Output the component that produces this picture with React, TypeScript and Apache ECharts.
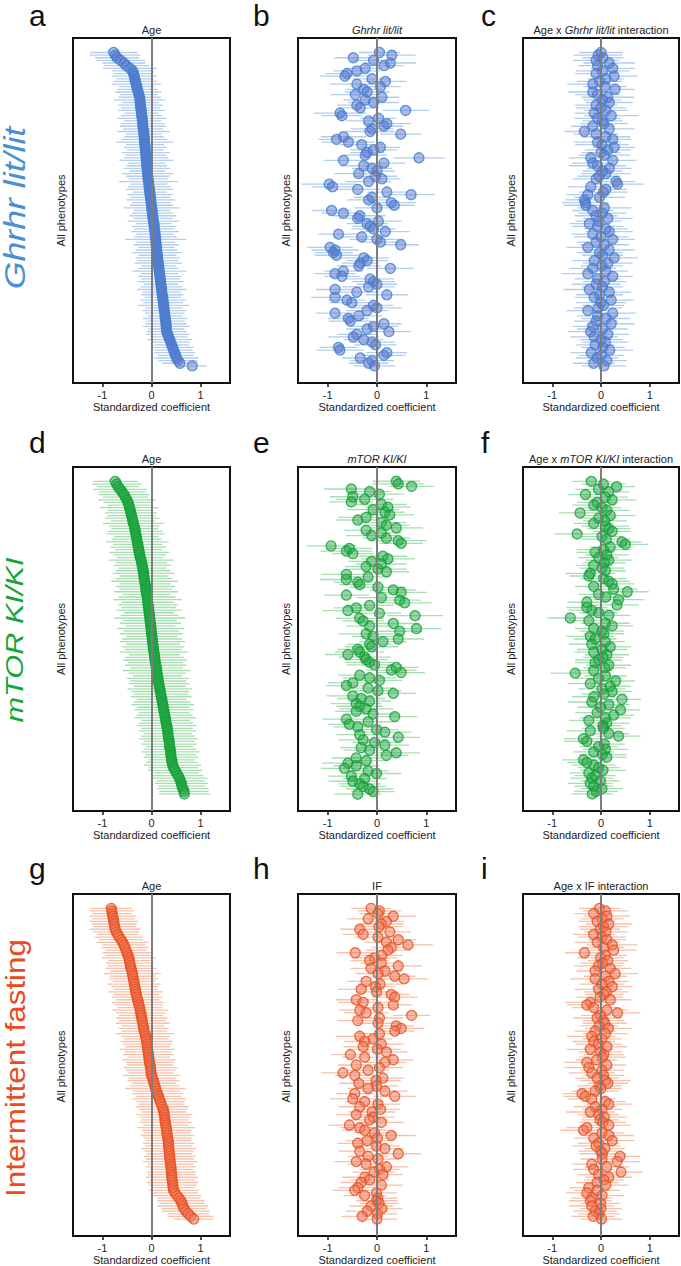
import React, { useEffect, useRef } from "react";
import * as echarts from "echarts";

// ---------- Row 1: Ghrhr lit/lit ----------
const ageGhrhr = [
  -0.77,-0.74,-0.70,-0.63,-0.56,-0.51,-0.44,-0.38,-0.37,-0.35,
  -0.34,-0.33,-0.31,-0.30,-0.29,-0.27,-0.26,-0.24,-0.235,-0.23,
  -0.225,-0.22,-0.21,-0.205,-0.20,-0.19,-0.185,-0.18,-0.175,-0.17,
  -0.16,-0.155,-0.15,-0.145,-0.14,-0.135,-0.13,-0.125,-0.12,-0.115,
  -0.11,-0.105,-0.10,-0.095,-0.09,-0.085,-0.08,-0.075,-0.07,-0.06,
  -0.055,-0.05,-0.04,-0.035,-0.03,-0.02,-0.015,-0.01,0.00,0.005,
  0.01,0.02,0.025,0.03,0.04,0.05,0.055,0.06,0.07,0.075,
  0.08,0.085,0.09,0.095,0.10,0.105,0.11,0.12,0.125,0.13,
  0.14,0.145,0.15,0.16,0.165,0.17,0.18,0.185,0.19,0.20,
  0.205,0.21,0.22,0.23,0.235,0.24,0.25,0.255,0.26,0.27,
  0.275,0.28,0.29,0.295,0.30,0.305,0.31,0.33,0.35,0.37,
  0.39,0.41,0.43,0.45,0.47,0.49,0.51,0.54,0.58,0.83,
];
const errAgeGhrhr = [
  .48,.52,.45,.50,.44,.47,.55,.42,.40,.46,.38,.44,.50,.36,.41,.47,.39,.43,.52,.37,
  .45,.40,.48,.35,.42,.50,.38,.44,.47,.41,.53,.36,.40,.46,.58,.39,.43,.37,.49,.42,
  .45,.55,.38,.41,.47,.36,.52,.44,.40,.60,.38,.43,.48,.35,.46,.41,.50,.39,.44,.57,
  .37,.42,.48,.40,.53,.36,.45,.41,.49,.38,.44,.62,.40,.46,.37,.43,.51,.39,.45,.42,
  .48,.36,.41,.55,.38,.44,.40,.47,.35,.42,.50,.39,.43,.37,.46,.41,.52,.38,.44,.40,
  .36,.45,.39,.42,.48,.37,.41,.44,.38,.46,.40,.35,.43,.39,.42,.37,.45,.40,.36,.30,
];
const ghrhrMain = [
  0.05,0.30,-0.48,-0.07,0.27,0.14,-0.24,-0.41,-0.61,-0.65,-0.10,0.17,
  -0.41,0.07,-0.27,-0.20,-0.44,0.10,-0.24,-0.07,-0.41,-0.34,0.58,-0.75,-0.71,0.03,-0.17,0.20,0.14,-0.10,
  -0.14,0.48,-0.68,-0.82,-0.58,-0.31,0.07,-0.07,-0.20,-0.24,0.85,-0.68,0.14,-0.27,-0.10,0.00,-0.37,-0.03,0.10,-0.17,
  -0.97,-0.90,-0.39,0.20,0.69,-0.10,-0.17,0.29,0.35,0.00,-0.92,-0.68,-0.35,-0.39,0.03,-0.20,-0.14,-0.07,0.17,-0.78,
  -0.31,0.00,0.07,0.48,-0.95,-0.85,-0.88,-0.82,-0.27,-0.20,-0.34,-0.37,0.27,-0.68,-0.85,-0.71,-0.14,-0.07,0.00,-0.17,
  -0.85,-0.41,0.20,-0.85,-0.61,-0.51,-0.07,0.00,-0.20,-0.85,-0.37,-0.58,-0.54,0.14,-0.07,-0.20,0.24,-0.41,-0.48,-0.27,
  -0.10,-0.03,-0.78,-0.75,0.20,0.14,-0.34,-0.10,-0.17,-0.05,
];
const errGhrhrMain = [
  .42,.48,.38,.45,.52,.40,.36,.47,.44,.50,.39,.43,.55,.41,.37,.46,.49,.35,.44,.51,
  .40,.38,.47,.53,.42,.36,.45,.48,.39,.43,.50,.41,.46,.37,.54,.44,.40,.48,.35,.45,
  .52,.39,.43,.47,.41,.36,.49,.44,.38,.46,.56,.42,.45,.40,.48,.37,.43,.50,.41,.46,
  .39,.44,.52,.38,.47,.42,.36,.45,.49,.40,.43,.55,.41,.37,.46,.48,.39,.44,.51,.42,
  .38,.45,.47,.40,.43,.36,.49,.44,.41,.53,.39,.46,.42,.48,.37,.45,.40,.50,.43,.38,
  .47,.41,.44,.36,.49,.42,.45,.39,.52,.40,.46,.43,.38,.48,.41,.44,.37,.45,.40,.42,
];
const ghrhrInter = [
  0,-0.06,0.04,-0.1,0.17,-0.07,0.24,0.03,-0.1,0.27,0.1,-0.03,
  -0.17,0.08,0.29,-0.17,-0.07,0.14,0.03,0.17,-0.1,0,0.1,-0.14,0.21,-0.07,0.03,0.06,-0.17,0.17,
  -0.34,-0.1,0.1,0.24,-0.07,0.02,0.27,0.14,0,0.07,-0.21,0.24,-0.17,-0.07,0.17,0.03,0.1,-0.04,
  -0.1,0.31,0.34,-0.21,0.1,0.05,-0.27,-0.03,-0.34,-0.32,-0.31,0.07,-0.17,0.03,-0.1,0.14,-0.05,
  -0.24,-0.07,0.1,0.17,-0.17,0,0.24,-0.1,0.07,-0.27,0.17,-0.03,0.03,0.27,-0.14,0.14,0.02,
  -0.17,0.1,-0.27,0.24,-0.07,0.07,-0.1,0.03,-0.24,0.17,-0.03,-0.14,0.21,0,0.05,-0.06,
  -0.27,0.24,-0.07,0.1,-0.1,0.21,-0.17,0.03,-0.21,0.14,-0.14,0,0.09,-0.12,0.04,0.18,-0.2,0.01,-0.08,
  0.12,-0.15,0.06,
];
const errGhrhrInter = [
  .45,.50,.42,.48,.53,.40,.46,.55,.43,.49,.38,.47,.52,.44,.41,.50,.46,.54,.39,.48,
  .43,.51,.45,.40,.56,.47,.42,.49,.44,.52,.41,.46,.50,.38,.48,.55,.43,.47,.40,.53,
  .45,.49,.42,.58,.46,.41,.51,.44,.48,.39,.54,.47,.43,.50,.45,.52,.40,.48,.46,.55,
  .42,.49,.44,.51,.47,.41,.53,.45,.48,.43,.56,.46,.40,.50,.44,.52,.47,.42,.49,.45,
  .51,.43,.48,.46,.54,.41,.47,.44,.50,.42,.53,.45,.48,.40,.46,.51,.43,.49,.44,.47,
  .42,.50,.45,.48,.41,.52,.46,.43,.49,.44,.47,.40,.45,.48,.42,.46,.44,.41,.43,.45,
];

// ---------- Row 2: mTOR KI/KI ----------
const ageMtor = [
  -0.74,-0.71,-0.68,-0.64,-0.60,-0.56,-0.53,-0.50,-0.48,-0.46,
  -0.45,-0.43,-0.42,-0.41,-0.39,-0.38,-0.37,-0.35,-0.34,-0.33,
  -0.32,-0.31,-0.30,-0.29,-0.28,-0.27,-0.26,-0.25,-0.24,-0.23,
  -0.21,-0.20,-0.19,-0.18,-0.17,-0.16,-0.155,-0.15,-0.14,-0.13,
  -0.12,-0.115,-0.11,-0.10,-0.09,-0.08,-0.075,-0.07,-0.06,-0.055,
  -0.05,-0.04,-0.035,-0.03,-0.02,-0.015,-0.01,-0.005,0.00,0.01,
  0.015,0.02,0.03,0.035,0.04,0.05,0.06,0.065,0.07,0.08,
  0.09,0.10,0.105,0.115,0.12,0.13,0.14,0.15,0.16,0.17,
  0.18,0.19,0.20,0.21,0.22,0.23,0.24,0.25,0.26,0.27,
  0.28,0.29,0.30,0.31,0.32,0.33,0.335,0.34,0.35,0.36,
  0.365,0.37,0.38,0.39,0.395,0.40,0.41,0.42,0.43,0.45,
  0.48,0.51,0.54,0.57,0.59,0.61,0.62,0.64,0.66,0.67,
];
const errAgeMtor = [
  .45,.50,.42,.55,.48,.52,.46,.58,.50,.44,.60,.47,.53,.49,.56,.45,.62,.51,.48,.55,
  .59,.46,.52,.64,.50,.57,.48,.61,.53,.47,.66,.52,.58,.49,.55,.63,.50,.57,.68,.52,
  .60,.54,.65,.49,.58,.70,.53,.61,.56,.66,.51,.59,.72,.55,.62,.50,.68,.57,.64,.53,
  .61,.67,.55,.63,.58,.70,.52,.60,.65,.56,.62,.54,.69,.58,.50,.64,.57,.61,.53,.66,
  .59,.55,.62,.51,.58,.64,.54,.60,.52,.57,.63,.50,.56,.61,.53,.58,.49,.55,.60,.52,
  .57,.48,.54,.59,.51,.56,.47,.53,.58,.50,.55,.46,.52,.57,.49,.54,.48,.53,.50,.52,
];
const mtorMain = [
  0.39,0.43,0.70,-0.52,-0.15,0.05,-0.49,-0.25,-0.52,0.09,0.22,
  -0.08,0.16,0.26,-0.22,-0.39,0.09,0.19,0.39,-0.22,0.09,-0.11,0.19,
  0.43,0.49,-0.93,-0.56,-0.62,-0.49,0.12,0.22,-0.11,0.09,-0.22,0.02,0.19,
  -0.62,-0.18,-0.62,-0.39,-0.35,0.02,0.33,0.49,-0.62,0.09,0.46,0.56,-0.15,
  -0.42,-0.59,0.05,0.77,-0.35,-0.28,0.33,-0.15,0.80,0.46,-0.22,-0.08,
  0.43,0.12,-0.15,-0.11,-0.39,-0.35,-0.59,-0.25,-0.22,-0.15,-0.05,0.39,0.29,0.49,
  -0.35,-0.15,0.05,-0.49,-0.62,-0.18,0.02,0.33,-0.49,-0.32,-0.15,-0.42,
  -0.35,-0.22,-0.42,-0.08,0.36,-0.62,-0.18,-0.56,-0.39,-0.01,0.16,
  -0.35,0.43,-0.28,-0.05,0.16,-0.32,-0.15,0.39,0.19,-0.42,-0.22,
  -0.59,-0.42,-0.66,-0.18,-0.01,-0.52,-0.25,-0.49,-0.35,-0.28,-0.15,-0.08,-0.39,
];
const errMtorMain = [
  .48,.52,.45,.55,.42,.50,.47,.58,.44,.51,.46,.53,.40,.49,.56,.43,.50,.47,.54,.45,
  .41,.52,.48,.57,.44,.50,.46,.53,.42,.49,.55,.47,.51,.43,.58,.46,.50,.44,.53,.48,
  .41,.56,.47,.52,.45,.50,.43,.54,.48,.46,.51,.44,.57,.49,.42,.53,.47,.50,.45,.55,
  .43,.52,.48,.46,.54,.41,.50,.47,.53,.44,.49,.56,.45,.51,.48,.43,.55,.46,.50,.42,
  .52,.47,.45,.53,.49,.44,.51,.47,.55,.43,.50,.46,.48,.52,.42,.49,.45,.54,.47,.44,
  .51,.46,.49,.43,.53,.48,.45,.50,.44,.52,.46,.48,.42,.50,.47,.45,.49,.43,.46,.48,.44,.47,
];
const mtorInter = [
  -0.20,0.05,0.32,-0.05,0.16,-0.32,0.09,0.23,-0.08,
  -0.15,0.02,0.12,-0.43,0.19,-0.05,0.08,-0.15,0.09,0.16,0.23,-0.49,0.02,0.11,
  0.43,0.50,0.19,0.05,-0.12,0.12,-0.05,0.16,0.07,-0.15,0.02,0.09,
  -0.22,-0.25,0.05,0.16,0.23,-0.15,0.26,0.54,-0.05,0.10,0.36,-0.29,
  0.33,-0.29,-0.19,-0.05,0.16,-0.63,-0.25,0.09,0.23,-0.15,0.02,0.06,-0.22,
  -0.12,0.09,-0.19,0.19,0.02,-0.15,0.12,0.04,-0.05,-0.12,0.16,0.08,
  -0.15,-0.53,0.09,-0.05,0.30,-0.22,0.19,0.02,0.23,0.06,-0.15,
  0.43,-0.19,0.16,-0.01,0.40,-0.08,0.26,0.09,-0.25,0.12,0.04,
  0.05,-0.22,0.16,0.36,-0.36,-0.29,0.07,-0.05,0.09,-0.15,0.03,
  0.12,-0.36,-0.29,-0.15,-0.05,0.04,-0.25,-0.12,-0.19,-0.01,-0.22,-0.15,0.02,-0.10,-0.18,
];
const errMtorInter = [
  .40,.45,.38,.48,.42,.36,.46,.50,.41,.44,.39,.47,.43,.52,.37,.45,.41,.49,.44,.38,
  .46,.42,.50,.40,.47,.43,.55,.39,.45,.41,.48,.44,.37,.46,.42,.51,.40,.47,.43,.45,
  .38,.49,.44,.41,.46,.53,.40,.45,.42,.48,.39,.44,.47,.41,.50,.43,.38,.46,.42,.49,
  .44,.40,.47,.43,.51,.39,.45,.42,.48,.41,.46,.44,.38,.50,.43,.47,.40,.45,.42,.48,
  .41,.46,.44,.39,.49,.43,.47,.40,.45,.42,.52,.41,.46,.38,.44,.48,.42,.45,.40,.47,
  .43,.39,.46,.42,.48,.41,.44,.40,.45,.43,.47,.39,.42,.44,.41,.46,.40,.43,.45,.42,
];

// ---------- Row 3: Intermittent fasting ----------
const ageIF = [
  -0.82,-0.81,-0.80,-0.79,-0.78,-0.77,-0.76,-0.75,-0.74,-0.72,
  -0.69,-0.66,-0.62,-0.59,-0.56,-0.54,-0.52,-0.50,-0.48,-0.46,
  -0.45,-0.44,-0.43,-0.42,-0.40,-0.39,-0.38,-0.37,-0.36,-0.35,
  -0.34,-0.33,-0.32,-0.31,-0.30,-0.28,-0.27,-0.26,-0.24,-0.23,
  -0.22,-0.21,-0.20,-0.19,-0.18,-0.17,-0.16,-0.15,-0.13,-0.12,
  -0.11,-0.10,-0.09,-0.085,-0.08,-0.07,-0.06,-0.055,-0.05,-0.04,
  -0.03,-0.02,-0.015,-0.01,0.00,0.02,0.04,0.05,0.07,0.08,
  0.10,0.12,0.14,0.16,0.18,0.20,0.22,0.24,0.25,0.26,
  0.27,0.275,0.28,0.29,0.30,0.31,0.315,0.32,0.33,0.34,
  0.345,0.35,0.355,0.36,0.365,0.37,0.375,0.38,0.39,0.395,
  0.40,0.405,0.41,0.415,0.42,0.43,0.435,0.44,0.45,0.48,
  0.52,0.56,0.60,0.62,0.64,0.66,0.70,0.75,0.80,0.86,
];
const errAgeIF = [
  .42,.45,.40,.48,.44,.50,.46,.43,.52,.47,.41,.49,.45,.53,.44,.48,.42,.50,.46,.55,
  .43,.49,.47,.52,.44,.58,.46,.50,.43,.54,.48,.45,.56,.47,.51,.44,.53,.49,.46,.57,
  .50,.45,.52,.48,.55,.44,.51,.47,.60,.49,.46,.53,.50,.45,.56,.48,.52,.44,.54,.49,
  .47,.55,.51,.46,.58,.49,.53,.45,.50,.62,.48,.52,.46,.55,.50,.47,.54,.49,.45,.57,
  .51,.48,.53,.46,.59,.50,.47,.54,.49,.45,.52,.48,.56,.50,.46,.53,.49,.55,.47,.51,
  .44,.50,.48,.53,.46,.52,.49,.45,.51,.47,.50,.44,.48,.46,.52,.45,.49,.43,.47,.40,
];
const ifMain = [
  -0.12,0.05,0.02,0.33,-0.18,0.19,0.09,0.04,
  -0.35,0.26,-0.28,0.02,0.43,0.19,0.63,0.29,0.22,-0.44,0.10,-0.05,
  -0.15,0.09,0.43,-0.12,0.16,0.02,0.36,0.55,-0.22,0.06,-0.03,
  -0.32,-0.01,0.29,0.36,-0.42,-0.28,0.33,0.02,-0.35,-0.22,0.70,0.05,
  -0.39,0.02,0.39,0.49,0.36,0.05,-0.35,-0.08,-0.25,0.09,-0.28,0.01,
  0.19,-0.54,-0.25,0.33,0.16,-0.42,0.05,-0.18,-0.69,-0.45,0.12,-0.02,
  -0.37,-0.01,-0.18,0.16,-0.45,0.36,-0.49,-0.25,0.02,-0.35,0.07,-0.10,
  -0.42,-0.08,-0.15,0.09,-0.56,-0.35,-0.25,-0.05,0.29,0.01,-0.20,
  -0.39,-0.01,0.16,-0.35,0.43,-0.18,0.02,-0.42,-0.22,0.19,0.05,-0.06,0.12,
  -0.25,-0.15,-0.32,0.09,-0.39,-0.45,-0.01,-0.25,0.02,-0.01,0.04,-0.12,0.10,-0.20,0.01,-0.30,0.00,
];
const errIFMain = [
  .40,.44,.38,.46,.42,.36,.45,.48,.39,.43,.41,.47,.37,.44,.50,.40,.45,.38,.42,.46,
  .39,.43,.48,.41,.36,.45,.42,.49,.38,.44,.40,.47,.43,.37,.46,.41,.50,.39,.44,.42,
  .45,.38,.48,.41,.43,.36,.46,.40,.44,.49,.38,.42,.45,.40,.47,.43,.39,.46,.41,.44,
  .37,.48,.42,.45,.40,.43,.50,.39,.44,.41,.46,.38,.43,.47,.40,.45,.42,.39,.48,.41,
  .44,.37,.46,.42,.40,.45,.43,.49,.38,.44,.41,.47,.39,.43,.46,.40,.42,.45,.38,.44,
  .41,.43,.40,.46,.39,.42,.44,.38,.45,.41,.43,.40,.42,.39,.44,.41,.43,.40,.42,.41,
];
const ifInter = [
  -0.03,0.09,-0.15,0.12,0.02,-0.08,0.16,0.05,-0.02,0.10,
  -0.15,0.02,0.12,-0.08,0.23,0.05,0.26,-0.34,0.09,-0.01,0.14,0.03,-0.05,
  0.19,-0.12,0.29,0.09,-0.12,0.16,0.02,0.23,-0.05,0.11,0.06,-0.02,
  0.19,-0.22,-0.29,-0.15,0.12,0.34,-0.01,-0.08,0.05,0.08,-0.04,0.15,
  -0.12,0.09,-0.19,0.02,-0.15,-0.05,0.12,-0.22,-0.01,0.06,0.03,-0.09,
  -0.29,0.12,-0.25,0.02,-0.19,0.05,-0.08,0.09,0.14,-0.03,0.00,-0.12,
  -0.39,-0.32,-0.19,0.09,0.16,-0.12,0.02,-0.22,-0.05,0.07,-0.02,0.04,
  0.16,-0.29,-0.36,0.02,0.16,-0.15,0.23,-0.05,-0.10,0.08,-0.01,0.03,
  0.39,0.02,0.33,-0.19,0.12,-0.15,0.41,-0.05,0.16,0.06,-0.08,0.10,
  -0.25,-0.08,-0.29,0.02,-0.19,-0.22,-0.01,-0.19,0.00,-0.12,-0.04,-0.16,0.01,
];
const errIFInter = [
  .42,.46,.40,.48,.44,.38,.47,.50,.41,.45,.43,.49,.39,.46,.52,.42,.47,.40,.44,.48,
  .41,.45,.50,.43,.38,.47,.44,.51,.40,.46,.42,.49,.45,.39,.48,.43,.52,.41,.46,.44,
  .47,.40,.50,.43,.45,.38,.48,.42,.46,.51,.40,.44,.47,.42,.49,.45,.41,.48,.43,.46,
  .39,.50,.44,.47,.42,.45,.52,.41,.46,.43,.48,.40,.45,.49,.42,.47,.44,.41,.50,.43,
  .46,.39,.48,.44,.42,.47,.45,.51,.40,.46,.43,.49,.41,.45,.48,.42,.44,.47,.40,.46,
  .43,.45,.42,.48,.41,.44,.46,.40,.47,.43,.45,.42,.44,.41,.46,.43,.45,.42,.44,.43,
];

const tickValues = [-1, 0, 1];
const rowLabels = ["Ghrhr lit/lit", "mTOR KI/KI", "Intermittent fasting"];
const panelLetters = ["a", "b", "c", "d", "e", "f", "g", "h", "i"];
const panelTitles = [
  "Age", "{i|Ghrhr lit/lit}", "Age x {i|Ghrhr lit/lit} interaction",
  "Age", "{i|mTOR KI/KI}", "Age x {i|mTOR KI/KI} interaction",
  "Age", "IF", "Age x IF interaction",
];
const panelData = [
  [ageGhrhr, errAgeGhrhr], [ghrhrMain, errGhrhrMain], [ghrhrInter, errGhrhrInter],
  [ageMtor, errAgeMtor], [mtorMain, errMtorMain], [mtorInter, errMtorInter],
  [ageIF, errAgeIF], [ifMain, errIFMain], [ifInter, errIFInter],
];

// ---------- Layout & styles ----------
const W = 681;
const H = 1266;
const FONT = "Liberation Sans, Arial, sans-serif";
const colLeft = [73, 298, 523];
const colWidth = [157, 158, 156];
const rowTop = [38, 467, 894];
const rowHeight = [345, 344, 345];
const letterX = [29, 253, 481];
const letterY = [15, 442, 868];
const rowLabelX = [15.5, 15, 15];
const rowLabelY = [208, 640, 1068];
const rowLabelSize = [29, 24, 28];
const rowLabelStretch = [1.23, 1.28, 1.12];
const rowColors = [
  { label: "#4a8fd4", fill: "rgba(95,118,205,0.62)", border: "#3f80d0", err: "#b2cdee", italic: true },
  { label: "#12a637", fill: "rgba(40,165,72,0.6)", border: "#10a035", err: "#a6dfb0", italic: true },
  { label: "#ea4a1e", fill: "rgba(238,120,92,0.65)", border: "#e84e1c", err: "#f7c1aa", italic: false },
];

export default function App() {
  const ref = useRef<HTMLDivElement>(null);

  useEffect(() => {
    document.body.style.margin = "0";
    if (!ref.current) return;
    const chart = echarts.init(ref.current, null, { renderer: "svg" });

    const grid: any[] = [];
    const xAxis: any[] = [];
    const yAxis: any[] = [];
    const series: any[] = [];
    const graphic: any[] = [];

    for (let k = 0; k < 9; k++) {
      const r = Math.floor(k / 3);
      const c = k % 3;
      const colors = rowColors[r];
      const [coef, err] = panelData[k] as [number[], number[]];
      const n = coef.length;

      grid.push({
        left: colLeft[c], top: rowTop[r], width: colWidth[c], height: rowHeight[r],
        show: true, borderColor: "#111", borderWidth: 2, backgroundColor: "#fff",
      });
      xAxis.push({
        gridIndex: k, type: "value", min: -1.6, max: 1.6, position: "bottom",
        axisLine: { show: true, onZero: false, lineStyle: { color: "#111", width: 2 } },
        axisTick: { show: true, customValues: tickValues, length: 4, lineStyle: { color: "#111", width: 1.5 } },
        axisLabel: { customValues: tickValues, fontSize: 11, color: "#222", margin: 6, fontFamily: FONT },
        splitLine: { show: false },
        name: "Standardized coefficient", nameLocation: "middle", nameGap: 18,
        nameTextStyle: { fontSize: 11, color: "#222", fontFamily: FONT },
      });
      yAxis.push({
        gridIndex: k, type: "value", inverse: true, min: -5.5, max: n - 1 + 6.5,
        axisLine: { show: false, onZero: false }, axisTick: { show: false }, axisLabel: { show: false },
        splitLine: { show: false },
      });

      series.push({
        type: "custom", xAxisIndex: k, yAxisIndex: k, silent: true, z: 1, clip: true,
        data: coef.map((v, i) => {
          const e = err[i] ?? err[err.length - 1];
          return [v - e, i, v + e];
        }),
        encode: { x: [0, 2], y: 1 },
        renderItem: (_p: any, api: any) => {
          const a = api.coord([api.value(0), api.value(1)]);
          const b = api.coord([api.value(2), api.value(1)]);
          return {
            type: "line",
            shape: { x1: a[0], y1: a[1], x2: b[0], y2: b[1] },
            style: { stroke: colors.err, lineWidth: 1.3 },
          };
        },
        markLine: {
          silent: true, symbol: "none", label: { show: false },
          lineStyle: { color: "#7d7d7d", width: 2, type: "solid" },
          data: [{ xAxis: 0 }],
        },
      });
      series.push({
        type: "scatter", xAxisIndex: k, yAxisIndex: k, silent: true, z: 3,
        symbolSize: 10,
        data: coef.map((v, i) => [v, i]),
        itemStyle: { color: colors.fill, borderColor: colors.border, borderWidth: 1.3 },
      });

      const cx = colLeft[c] + colWidth[c] / 2;
      graphic.push({
        type: "text", x: cx, y: rowTop[r] - 8,
        style: {
          text: panelTitles[k], fontSize: 11, fontFamily: FONT, fill: "#222",
          align: "center", verticalAlign: "middle",
          rich: { i: { fontStyle: "italic", fontSize: 11, fontFamily: FONT, fill: "#222" } },
        },
      });
      graphic.push({
        type: "text", x: letterX[c], y: letterY[r],
        style: {
          text: panelLetters[k], fontSize: 30, lineHeight: 30, fontFamily: FONT, fill: "#111",
          align: "left", verticalAlign: "middle",
        },
      });
      graphic.push({
        type: "text", x: colLeft[c] - 12, y: rowTop[r] + rowHeight[r] / 2, rotation: Math.PI / 2,
        style: {
          text: "All phenotypes", fontSize: 11, fontFamily: FONT, fill: "#222",
          align: "center", verticalAlign: "middle",
        },
      });
    }

    for (let r = 0; r < 3; r++) {
      const s = rowLabelSize[r];
      graphic.push({
        type: "text", x: rowLabelX[r], y: rowLabelY[r], rotation: Math.PI / 2,
        scaleX: rowLabelStretch[r], scaleY: 1,
        style: {
          text: rowLabels[r], fontSize: s, lineHeight: Math.round(s * 0.8), fontFamily: FONT,
          fill: rowColors[r].label,
          fontStyle: rowColors[r].italic ? "italic" : "normal",
          align: "center", verticalAlign: "middle",
        },
      });
    }

    chart.setOption({
      animation: false,
      backgroundColor: "#fff",
      textStyle: { fontFamily: FONT },
      grid, xAxis, yAxis, series, graphic,
    });

    return () => chart.dispose();
  }, []);

  return <div ref={ref} style={{ width: W, height: H }} />;
}
